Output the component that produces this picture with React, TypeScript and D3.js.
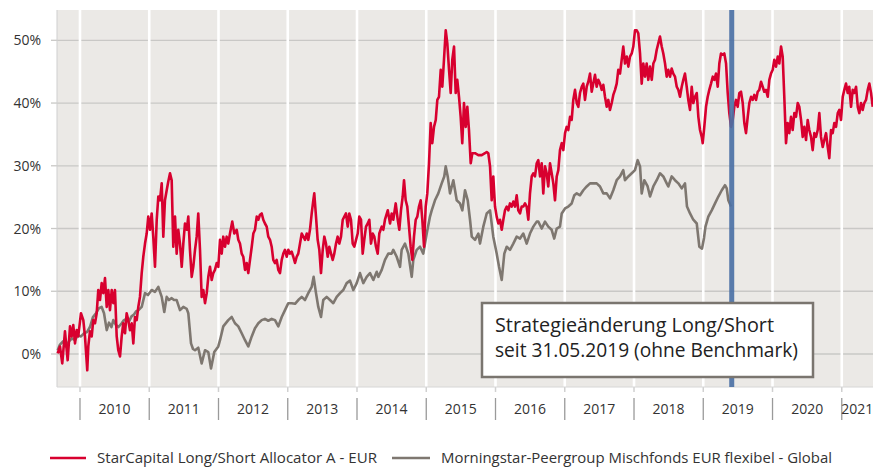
import React from "react";
import * as d3 from "d3";

// ---- data (decimal year, performance in %) ----
const starCapital: [number, number][] = [
  [2009.678, 0.1], [2009.711, 1.2], [2009.744, -1.5], [2009.783, 3.6], [2009.822, -1.0], [2009.856, 4.4],
  [2009.880, 2.8], [2009.903, 4.6], [2009.928, 1.7], [2009.952, 3.8], [2009.975, 2.8], [2010.014, 6.5],
  [2010.048, 5.4], [2010.072, 2.8], [2010.105, -2.6], [2010.120, 1.2], [2010.144, 3.6], [2010.169, 2.8],
  [2010.192, 5.4], [2010.217, 4.9], [2010.241, 6.5], [2010.264, 10.2], [2010.289, 8.6], [2010.313, 11.3],
  [2010.336, 9.7], [2010.361, 12.1], [2010.386, 7.5], [2010.409, 10.2], [2010.433, 7.0], [2010.458, 10.2],
  [2010.481, 8.1], [2010.505, 10.2], [2010.530, 2.8], [2010.553, 0.6], [2010.578, -0.4], [2010.602, 2.8],
  [2010.625, 4.9], [2010.650, 3.3], [2010.674, 6.5], [2010.697, 5.4], [2010.722, 3.8], [2010.747, 4.9],
  [2010.770, 1.7], [2010.794, 5.9], [2010.819, 5.4], [2010.842, 7.5], [2010.866, 9.1], [2010.891, 12.9],
  [2010.914, 15.5], [2010.939, 17.6], [2010.963, 19.2], [2010.986, 21.9], [2011.011, 19.8], [2011.035, 22.4],
  [2011.058, 18.7], [2011.083, 13.9], [2011.108, 21.4], [2011.131, 25.1], [2011.155, 24.5], [2011.180, 27.2],
  [2011.203, 18.7], [2011.227, 24.5], [2011.252, 26.1], [2011.275, 27.5], [2011.300, 28.8], [2011.324, 27.7],
  [2011.347, 17.1], [2011.372, 21.9], [2011.396, 16.0], [2011.419, 19.8], [2011.444, 17.6], [2011.469, 13.9],
  [2011.492, 17.6], [2011.516, 20.8], [2011.541, 19.8], [2011.564, 21.9], [2011.588, 16.6], [2011.613, 12.3],
  [2011.636, 13.9], [2011.661, 16.6], [2011.685, 18.7], [2011.708, 22.4], [2011.733, 16.6], [2011.757, 9.1],
  [2011.781, 10.2], [2011.805, 8.1], [2011.830, 9.7], [2011.853, 12.3], [2011.877, 13.9], [2011.902, 11.8],
  [2011.925, 12.9], [2011.949, 13.4], [2011.974, 14.5], [2011.997, 13.9], [2012.022, 18.2], [2012.046, 16.0],
  [2012.069, 18.7], [2012.094, 17.1], [2012.118, 18.7], [2012.141, 17.6], [2012.166, 19.2], [2012.199, 21.1],
  [2012.228, 19.2], [2012.263, 19.8], [2012.286, 18.2], [2012.310, 17.6], [2012.335, 16.0], [2012.358, 15.5],
  [2012.383, 13.4], [2012.407, 14.5], [2012.430, 12.9], [2012.455, 15.0], [2012.480, 17.1], [2012.503, 19.2],
  [2012.527, 19.8], [2012.552, 21.9], [2012.575, 21.4], [2012.599, 22.2], [2012.624, 22.4], [2012.647, 21.4],
  [2012.671, 20.8], [2012.696, 20.3], [2012.719, 18.7], [2012.744, 18.2], [2012.768, 17.1], [2012.791, 15.0],
  [2012.816, 14.5], [2012.840, 15.0], [2012.864, 13.4], [2012.888, 12.9], [2012.913, 15.0], [2012.936, 16.0],
  [2012.960, 16.6], [2012.985, 15.5], [2013.008, 16.6], [2013.032, 16.0], [2013.057, 16.3], [2013.080, 15.5],
  [2013.105, 14.5], [2013.129, 15.5], [2013.152, 16.0], [2013.177, 17.6], [2013.202, 19.2], [2013.225, 18.7],
  [2013.249, 18.2], [2013.274, 19.2], [2013.297, 18.2], [2013.321, 19.8], [2013.346, 22.4], [2013.369, 24.5],
  [2013.383, 25.6], [2013.408, 21.9], [2013.432, 18.2], [2013.456, 16.6], [2013.480, 12.9], [2013.505, 16.6],
  [2013.528, 18.7], [2013.552, 17.6], [2013.577, 15.5], [2013.600, 17.1], [2013.625, 16.0], [2013.649, 15.0],
  [2013.672, 16.0], [2013.697, 17.6], [2013.721, 18.7], [2013.744, 17.6], [2013.769, 18.7], [2013.794, 21.4],
  [2013.817, 21.9], [2013.841, 22.4], [2013.866, 20.3], [2013.889, 22.4], [2013.913, 21.4], [2013.938, 17.6],
  [2013.961, 17.1], [2013.986, 18.2], [2014.010, 19.2], [2014.033, 21.9], [2014.058, 21.4], [2014.082, 16.0],
  [2014.105, 18.2], [2014.130, 20.3], [2014.155, 20.8], [2014.178, 21.4], [2014.202, 17.6], [2014.227, 19.2],
  [2014.250, 18.7], [2014.274, 17.1], [2014.299, 16.0], [2014.322, 19.2], [2014.357, 20.3], [2014.380, 19.8],
  [2014.404, 21.4], [2014.444, 22.9], [2014.477, 20.8], [2014.501, 22.4], [2014.524, 21.4], [2014.559, 24.0],
  [2014.588, 21.4], [2014.611, 19.8], [2014.635, 22.9], [2014.660, 25.1], [2014.679, 27.7], [2014.703, 24.5],
  [2014.726, 23.5], [2014.751, 20.3], [2014.775, 17.1], [2014.799, 15.0], [2014.823, 18.7], [2014.848, 21.4],
  [2014.871, 21.9], [2014.895, 23.5], [2014.920, 24.5], [2014.943, 21.4], [2014.968, 17.1], [2014.992, 23.5],
  [2015.015, 25.6], [2015.040, 30.4], [2015.064, 36.8], [2015.087, 33.6], [2015.112, 36.2], [2015.137, 37.3],
  [2015.160, 40.5], [2015.184, 41.0], [2015.209, 45.3], [2015.232, 42.6], [2015.256, 46.9], [2015.281, 51.6],
  [2015.304, 49.5], [2015.329, 45.3], [2015.353, 41.6], [2015.376, 46.9], [2015.401, 49.0], [2015.425, 41.6],
  [2015.448, 43.7], [2015.473, 41.0], [2015.497, 37.8], [2015.520, 33.6], [2015.545, 40.0], [2015.570, 36.2],
  [2015.593, 39.4], [2015.617, 35.7], [2015.642, 30.4], [2015.665, 32.0], [2015.704, 32.0], [2015.752, 31.7],
  [2015.801, 31.7], [2015.848, 32.0], [2015.873, 32.2], [2015.896, 32.0], [2015.921, 29.9], [2015.945, 24.5],
  [2015.968, 28.3], [2015.993, 23.5], [2016.017, 21.9], [2016.041, 20.8], [2016.065, 21.4], [2016.090, 19.8],
  [2016.113, 21.4], [2016.137, 22.9], [2016.162, 23.5], [2016.185, 22.9], [2016.209, 24.0], [2016.234, 23.5],
  [2016.257, 24.3], [2016.282, 23.5], [2016.306, 25.3], [2016.329, 22.9], [2016.354, 22.4], [2016.378, 23.5],
  [2016.401, 23.5], [2016.426, 24.0], [2016.450, 23.5], [2016.474, 21.4], [2016.498, 25.6], [2016.523, 28.3],
  [2016.546, 28.8], [2016.570, 28.3], [2016.595, 30.4], [2016.618, 30.9], [2016.643, 28.3], [2016.667, 30.4],
  [2016.690, 25.6], [2016.715, 29.9], [2016.739, 28.8], [2016.762, 26.7], [2016.787, 30.4], [2016.811, 28.8],
  [2016.835, 27.2], [2016.859, 24.5], [2016.884, 28.3], [2016.907, 29.3], [2016.931, 32.5], [2016.956, 33.6],
  [2016.979, 32.5], [2017.004, 35.2], [2017.028, 36.2], [2017.051, 35.7], [2017.076, 37.8], [2017.100, 37.3],
  [2017.123, 40.5], [2017.148, 42.1], [2017.173, 40.0], [2017.196, 39.4], [2017.220, 41.6], [2017.245, 42.6],
  [2017.268, 43.1], [2017.292, 40.5], [2017.317, 42.6], [2017.340, 43.4], [2017.365, 44.7], [2017.389, 41.8],
  [2017.412, 43.1], [2017.437, 44.5], [2017.461, 42.6], [2017.484, 43.7], [2017.509, 43.1], [2017.534, 42.1],
  [2017.557, 42.9], [2017.581, 41.0], [2017.606, 39.4], [2017.629, 40.5], [2017.653, 38.9], [2017.678, 40.0],
  [2017.701, 41.3], [2017.726, 42.1], [2017.750, 43.1], [2017.773, 45.3], [2017.798, 44.7], [2017.822, 46.9],
  [2017.845, 49.0], [2017.870, 46.3], [2017.895, 47.4], [2017.918, 45.8], [2017.942, 47.4], [2017.967, 47.9],
  [2017.990, 49.0], [2018.014, 51.6], [2018.039, 51.6], [2018.062, 51.1], [2018.087, 47.9], [2018.111, 43.1],
  [2018.134, 46.3], [2018.159, 44.2], [2018.183, 46.3], [2018.206, 43.7], [2018.231, 45.8], [2018.256, 43.7],
  [2018.279, 46.3], [2018.303, 46.9], [2018.328, 48.5], [2018.351, 49.5], [2018.375, 50.6], [2018.400, 49.0],
  [2018.423, 47.9], [2018.448, 46.3], [2018.472, 44.2], [2018.495, 45.3], [2018.520, 44.2], [2018.544, 45.5],
  [2018.567, 44.7], [2018.592, 44.2], [2018.617, 42.6], [2018.640, 42.1], [2018.664, 41.0], [2018.689, 42.6],
  [2018.712, 43.7], [2018.736, 44.7], [2018.761, 42.6], [2018.784, 40.5], [2018.809, 38.9], [2018.833, 42.6],
  [2018.856, 40.0], [2018.881, 41.0], [2018.906, 41.6], [2018.929, 37.8], [2018.953, 35.7], [2018.978, 34.6],
  [2018.992, 33.6], [2019.015, 36.2], [2019.040, 39.4], [2019.064, 41.0], [2019.087, 42.1], [2019.112, 43.1],
  [2019.137, 44.2], [2019.160, 43.7], [2019.184, 44.7], [2019.209, 42.6], [2019.232, 46.3], [2019.256, 47.9],
  [2019.281, 47.7], [2019.304, 47.9], [2019.329, 46.3], [2019.353, 41.6], [2019.376, 38.4], [2019.401, 36.2],
  [2019.425, 37.3], [2019.448, 39.4], [2019.473, 40.5], [2019.497, 39.4], [2019.521, 41.6], [2019.545, 41.8],
  [2019.570, 40.0], [2019.593, 36.8], [2019.617, 35.2], [2019.642, 37.8], [2019.665, 40.0], [2019.690, 41.0],
  [2019.714, 40.5], [2019.737, 41.3], [2019.762, 40.5], [2019.786, 41.8], [2019.809, 42.1], [2019.834, 43.4],
  [2019.858, 42.6], [2019.881, 41.8], [2019.906, 42.1], [2019.931, 41.0], [2019.954, 43.7], [2019.978, 44.7],
  [2020.003, 45.3], [2020.026, 46.9], [2020.051, 45.8], [2020.075, 47.4], [2020.098, 46.3], [2020.123, 49.0],
  [2020.147, 47.4], [2020.170, 41.0], [2020.195, 33.6], [2020.219, 36.8], [2020.242, 35.2], [2020.267, 37.8],
  [2020.291, 35.7], [2020.315, 38.4], [2020.339, 37.8], [2020.364, 40.0], [2020.387, 39.4], [2020.412, 37.3],
  [2020.436, 34.6], [2020.459, 36.2], [2020.484, 34.1], [2020.508, 37.3], [2020.531, 35.7], [2020.556, 34.6],
  [2020.580, 32.5], [2020.604, 35.2], [2020.628, 34.6], [2020.653, 35.7], [2020.676, 38.4], [2020.700, 34.6],
  [2020.725, 33.0], [2020.748, 34.1], [2020.773, 35.2], [2020.797, 33.0], [2020.820, 31.2], [2020.845, 35.7],
  [2020.869, 35.2], [2020.892, 36.8], [2020.917, 36.2], [2020.942, 38.4], [2020.965, 38.9], [2020.989, 37.3],
  [2021.014, 41.0], [2021.037, 42.1], [2021.061, 43.1], [2021.086, 41.6], [2021.108, 42.6], [2021.134, 39.4],
  [2021.158, 42.1], [2021.181, 41.6], [2021.206, 42.6], [2021.231, 39.4], [2021.254, 38.4], [2021.278, 40.0],
  [2021.302, 38.9], [2021.325, 40.0], [2021.350, 40.5], [2021.375, 42.1], [2021.398, 43.1], [2021.423, 41.6],
  [2021.447, 39.4],
];

const peerGroup: [number, number][] = [
  [2009.678, 0.6], [2009.711, 1.5], [2009.755, 2.0], [2009.798, 1.2], [2009.841, 2.0], [2009.884, 2.5],
  [2009.928, 2.2], [2009.971, 3.0], [2010.014, 2.8], [2010.058, 3.3], [2010.101, 3.5], [2010.144, 4.3],
  [2010.188, 5.9], [2010.231, 6.5], [2010.274, 7.3], [2010.313, 7.5], [2010.347, 6.5], [2010.386, 3.8],
  [2010.419, 5.0], [2010.455, 4.3], [2010.481, 5.4], [2010.520, 4.6], [2010.556, 4.3], [2010.602, 4.9],
  [2010.635, 5.4], [2010.674, 5.6], [2010.708, 5.2], [2010.744, 6.0], [2010.780, 6.3], [2010.809, 6.8],
  [2010.845, 7.0], [2010.891, 7.5], [2010.939, 9.7], [2010.982, 9.4], [2011.035, 10.2], [2011.083, 9.9],
  [2011.131, 10.7], [2011.180, 9.1], [2011.217, 6.7], [2011.252, 9.1], [2011.285, 8.6], [2011.324, 8.9],
  [2011.358, 8.6], [2011.396, 8.6], [2011.444, 7.0], [2011.492, 7.5], [2011.541, 7.2], [2011.564, 6.5],
  [2011.603, 1.7], [2011.632, 0.8], [2011.661, 0.6], [2011.708, 1.0], [2011.757, -1.5], [2011.805, 0.6],
  [2011.853, 0.3], [2011.892, -2.3], [2011.939, 0.3], [2011.997, 1.2], [2012.022, 2.2], [2012.069, 4.4],
  [2012.141, 5.4], [2012.191, 5.9], [2012.238, 4.9], [2012.286, 4.4], [2012.335, 3.3], [2012.383, 2.2],
  [2012.430, 1.2], [2012.480, 2.8], [2012.527, 4.1], [2012.575, 4.9], [2012.624, 5.4], [2012.671, 5.6],
  [2012.719, 5.3], [2012.768, 5.6], [2012.816, 5.4], [2012.864, 4.4], [2012.913, 5.9], [2012.960, 7.0],
  [2013.008, 8.1], [2013.057, 8.1], [2013.105, 8.0], [2013.152, 8.6], [2013.202, 9.1], [2013.249, 8.6],
  [2013.297, 9.7], [2013.346, 10.7], [2013.374, 12.3], [2013.408, 9.7], [2013.441, 7.5], [2013.480, 5.9],
  [2013.513, 8.6], [2013.562, 9.1], [2013.610, 8.6], [2013.658, 8.1], [2013.707, 9.1], [2013.755, 9.7],
  [2013.802, 10.2], [2013.851, 11.3], [2013.899, 11.7], [2013.947, 10.2], [2013.996, 11.3], [2014.043, 12.9],
  [2014.091, 11.3], [2014.140, 12.3], [2014.188, 12.9], [2014.236, 11.8], [2014.285, 13.1], [2014.308, 12.3],
  [2014.357, 13.4], [2014.404, 15.0], [2014.452, 16.0], [2014.501, 16.0], [2014.524, 16.6], [2014.573, 15.5],
  [2014.621, 13.9], [2014.645, 16.6], [2014.693, 17.6], [2014.741, 16.0], [2014.790, 12.3], [2014.813, 15.0],
  [2014.862, 16.6], [2014.910, 17.1], [2014.957, 16.0], [2015.007, 19.2], [2015.054, 21.9], [2015.079, 22.9],
  [2015.126, 24.5], [2015.174, 25.6], [2015.223, 27.2], [2015.260, 28.3], [2015.281, 29.9], [2015.310, 28.3],
  [2015.343, 25.6], [2015.391, 27.7], [2015.440, 24.5], [2015.487, 24.0], [2015.521, 22.9], [2015.560, 26.1],
  [2015.599, 24.5], [2015.632, 21.4], [2015.657, 18.7], [2015.704, 18.2], [2015.752, 19.2], [2015.776, 17.6],
  [2015.824, 20.3], [2015.873, 22.4], [2015.921, 22.9], [2015.968, 18.7], [2016.017, 16.0], [2016.051, 13.9],
  [2016.090, 11.8], [2016.127, 16.0], [2016.162, 17.1], [2016.209, 16.6], [2016.257, 17.6], [2016.306, 18.7],
  [2016.354, 18.4], [2016.401, 19.2], [2016.450, 17.6], [2016.498, 19.2], [2016.546, 20.3], [2016.595, 21.1],
  [2016.618, 21.1], [2016.667, 20.0], [2016.715, 21.1], [2016.762, 20.3], [2016.811, 19.8], [2016.848, 18.4],
  [2016.884, 20.0], [2016.931, 20.3], [2016.956, 22.4], [2017.004, 23.2], [2017.051, 23.5], [2017.100, 24.0],
  [2017.138, 25.3], [2017.173, 25.6], [2017.220, 25.3], [2017.268, 26.1], [2017.317, 26.7], [2017.365, 27.2],
  [2017.412, 27.2], [2017.461, 27.2], [2017.509, 26.7], [2017.557, 25.6], [2017.606, 25.6], [2017.653, 24.8],
  [2017.701, 26.1], [2017.750, 27.7], [2017.798, 28.3], [2017.845, 29.3], [2017.870, 27.7], [2017.918, 28.3],
  [2017.967, 28.8], [2018.014, 29.3], [2018.053, 30.9], [2018.087, 29.9], [2018.111, 25.6], [2018.148, 27.7],
  [2018.197, 26.7], [2018.231, 25.1], [2018.279, 26.7], [2018.328, 27.7], [2018.375, 28.8], [2018.423, 28.3],
  [2018.472, 27.2], [2018.495, 26.7], [2018.544, 28.3], [2018.592, 27.7], [2018.640, 27.2], [2018.689, 26.4],
  [2018.736, 27.2], [2018.765, 23.5], [2018.809, 22.4], [2018.856, 21.4], [2018.906, 20.8], [2018.943, 17.1],
  [2018.982, 16.8], [2019.011, 18.5], [2019.032, 20.3], [2019.073, 21.9], [2019.122, 22.9], [2019.170, 24.0],
  [2019.218, 25.1], [2019.267, 26.1], [2019.314, 26.9], [2019.339, 26.4], [2019.362, 24.5], [2019.401, 23.5],
];

const yTicks = [0, 10, 20, 30, 40, 50];
const years = [2010, 2011, 2012, 2013, 2014, 2015, 2016, 2017, 2018, 2019, 2020, 2021];
const seriesNames = [
  "StarCapital Long/Short Allocator A - EUR",
  "Morningstar-Peergroup Mischfonds EUR flexibel - Global",
];
const annotationLines = ["Strategieänderung Long/Short", "seit 31.05.2019 (ohne Benchmark)"];
const strategyChangeDate = 2019.411; // 31.05.2019
const xDomain: [number, number] = [2009.668, 2021.451];
const yDomain: [number, number] = [-5.26, 54.83];

const W = 873;
const H = 467;
const M = { left: 57, right: 873, top: 10, bottom: 387 };
const RED = "#d8002f";
const GREY = "#7e7770";
const BLUE = "#4d72a6";
const FONT = "'Open Sans', 'Noto Sans', sans-serif";
const TXT = "#333333";

export default function App() {
  const x = d3.scaleLinear().domain(xDomain).range([M.left, M.right]);
  const y = d3.scaleLinear().domain(yDomain).range([M.bottom, M.top]);
  const line = d3
    .line<[number, number]>()
    .x((d) => x(d[0]))
    .y((d) => y(d[1]));

  const yearSpans = years.map((yr) => {
    const a = Math.max(x(yr), M.left);
    const b = Math.min(x(yr + 1), M.right);
    return { yr, a, b, mid: (a + b) / 2 };
  });

  const bx = 482, by = 303, bw = 331, bh = 74;

  return (
    <svg
      width={W}
      height={H}
      style={{ position: "absolute", left: 0, top: 0, background: "#ffffff" }}
      fontFamily={FONT}
    >
      <rect x={M.left} y={M.top} width={M.right - M.left} height={M.bottom - M.top} fill="#ebe9e6" />
      {/* horizontal grid */}
      {yTicks.map((t) => (
        <g key={t}>
          <line x1={M.left} x2={M.right} y1={y(t)} y2={y(t)} stroke="#c9c8c6" strokeWidth={1.3} />
          <line x1={M.left - 6} x2={M.left} y1={y(t)} y2={y(t)} stroke="#c9c8c6" strokeWidth={1.3} />
          <text x={41} y={y(t)} dy="0.36em" textAnchor="end" fontSize={14} fill={TXT}>
            {t}%
          </text>
        </g>
      ))}
      {/* year boundaries */}
      {years.map((yr) => (
        <g key={yr}>
          <line x1={x(yr)} x2={x(yr)} y1={M.top} y2={M.bottom} stroke="#ffffff" strokeWidth={2.6} />
          <line x1={x(yr)} x2={x(yr)} y1={M.bottom} y2={M.bottom + 5} stroke="#d0d0d0" strokeWidth={1.5} />
          <line x1={x(yr)} x2={x(yr)} y1={M.bottom + 11} y2={M.bottom + 33} stroke="#9a9a9a" strokeWidth={1.3} />
        </g>
      ))}
      {/* axes lines */}
      <line x1={M.left} x2={M.left} y1={M.top} y2={M.bottom} stroke="#cfcfcf" strokeWidth={1} />
      <line x1={M.left} x2={M.right} y1={M.bottom} y2={M.bottom} stroke="#d6d6d6" strokeWidth={1} />
      {yearSpans.map((s) => (
        <text key={s.yr} x={s.mid} y={414} textAnchor="middle" fontSize={14} fill={TXT}>
          {s.yr}
        </text>
      ))}
      {/* series */}
      <path d={line(peerGroup) || ""} fill="none" stroke={GREY} strokeWidth={2.6} strokeLinejoin="round" />
      <path d={line(starCapital) || ""} fill="none" stroke={RED} strokeWidth={2.6} strokeLinejoin="round" />
      {/* strategy change marker */}
      <line
        x1={x(strategyChangeDate)}
        x2={x(strategyChangeDate)}
        y1={M.top}
        y2={M.bottom}
        stroke={BLUE}
        strokeWidth={5}
        opacity={0.92}
      />
      {/* annotation */}
      <rect x={bx} y={by} width={bw} height={bh} fill="#ffffff" stroke="#7a756f" strokeWidth={2.5} />
      {annotationLines.map((t, i) => (
        <text
          key={i}
          x={bx + 13}
          y={by + 29 + i * 25}
          fontSize={20}
          fill="#222222"
          textLength={i === 0 ? 279 : 303}
          lengthAdjust="spacingAndGlyphs"
        >
          {t}
        </text>
      ))}
      {/* legend */}
      <line x1={50} x2={86} y1={458} y2={458} stroke={RED} strokeWidth={2.6} />
      <text x={97} y={458} dy="0.35em" fontSize={15} fill={TXT} textLength={280} lengthAdjust="spacingAndGlyphs">
        {seriesNames[0]}
      </text>
      <line x1={392} x2={430} y1={458} y2={458} stroke={GREY} strokeWidth={2.6} />
      <text x={441} y={458} dy="0.35em" fontSize={15} fill={TXT} textLength={391} lengthAdjust="spacingAndGlyphs">
        {seriesNames[1]}
      </text>
    </svg>
  );
}
